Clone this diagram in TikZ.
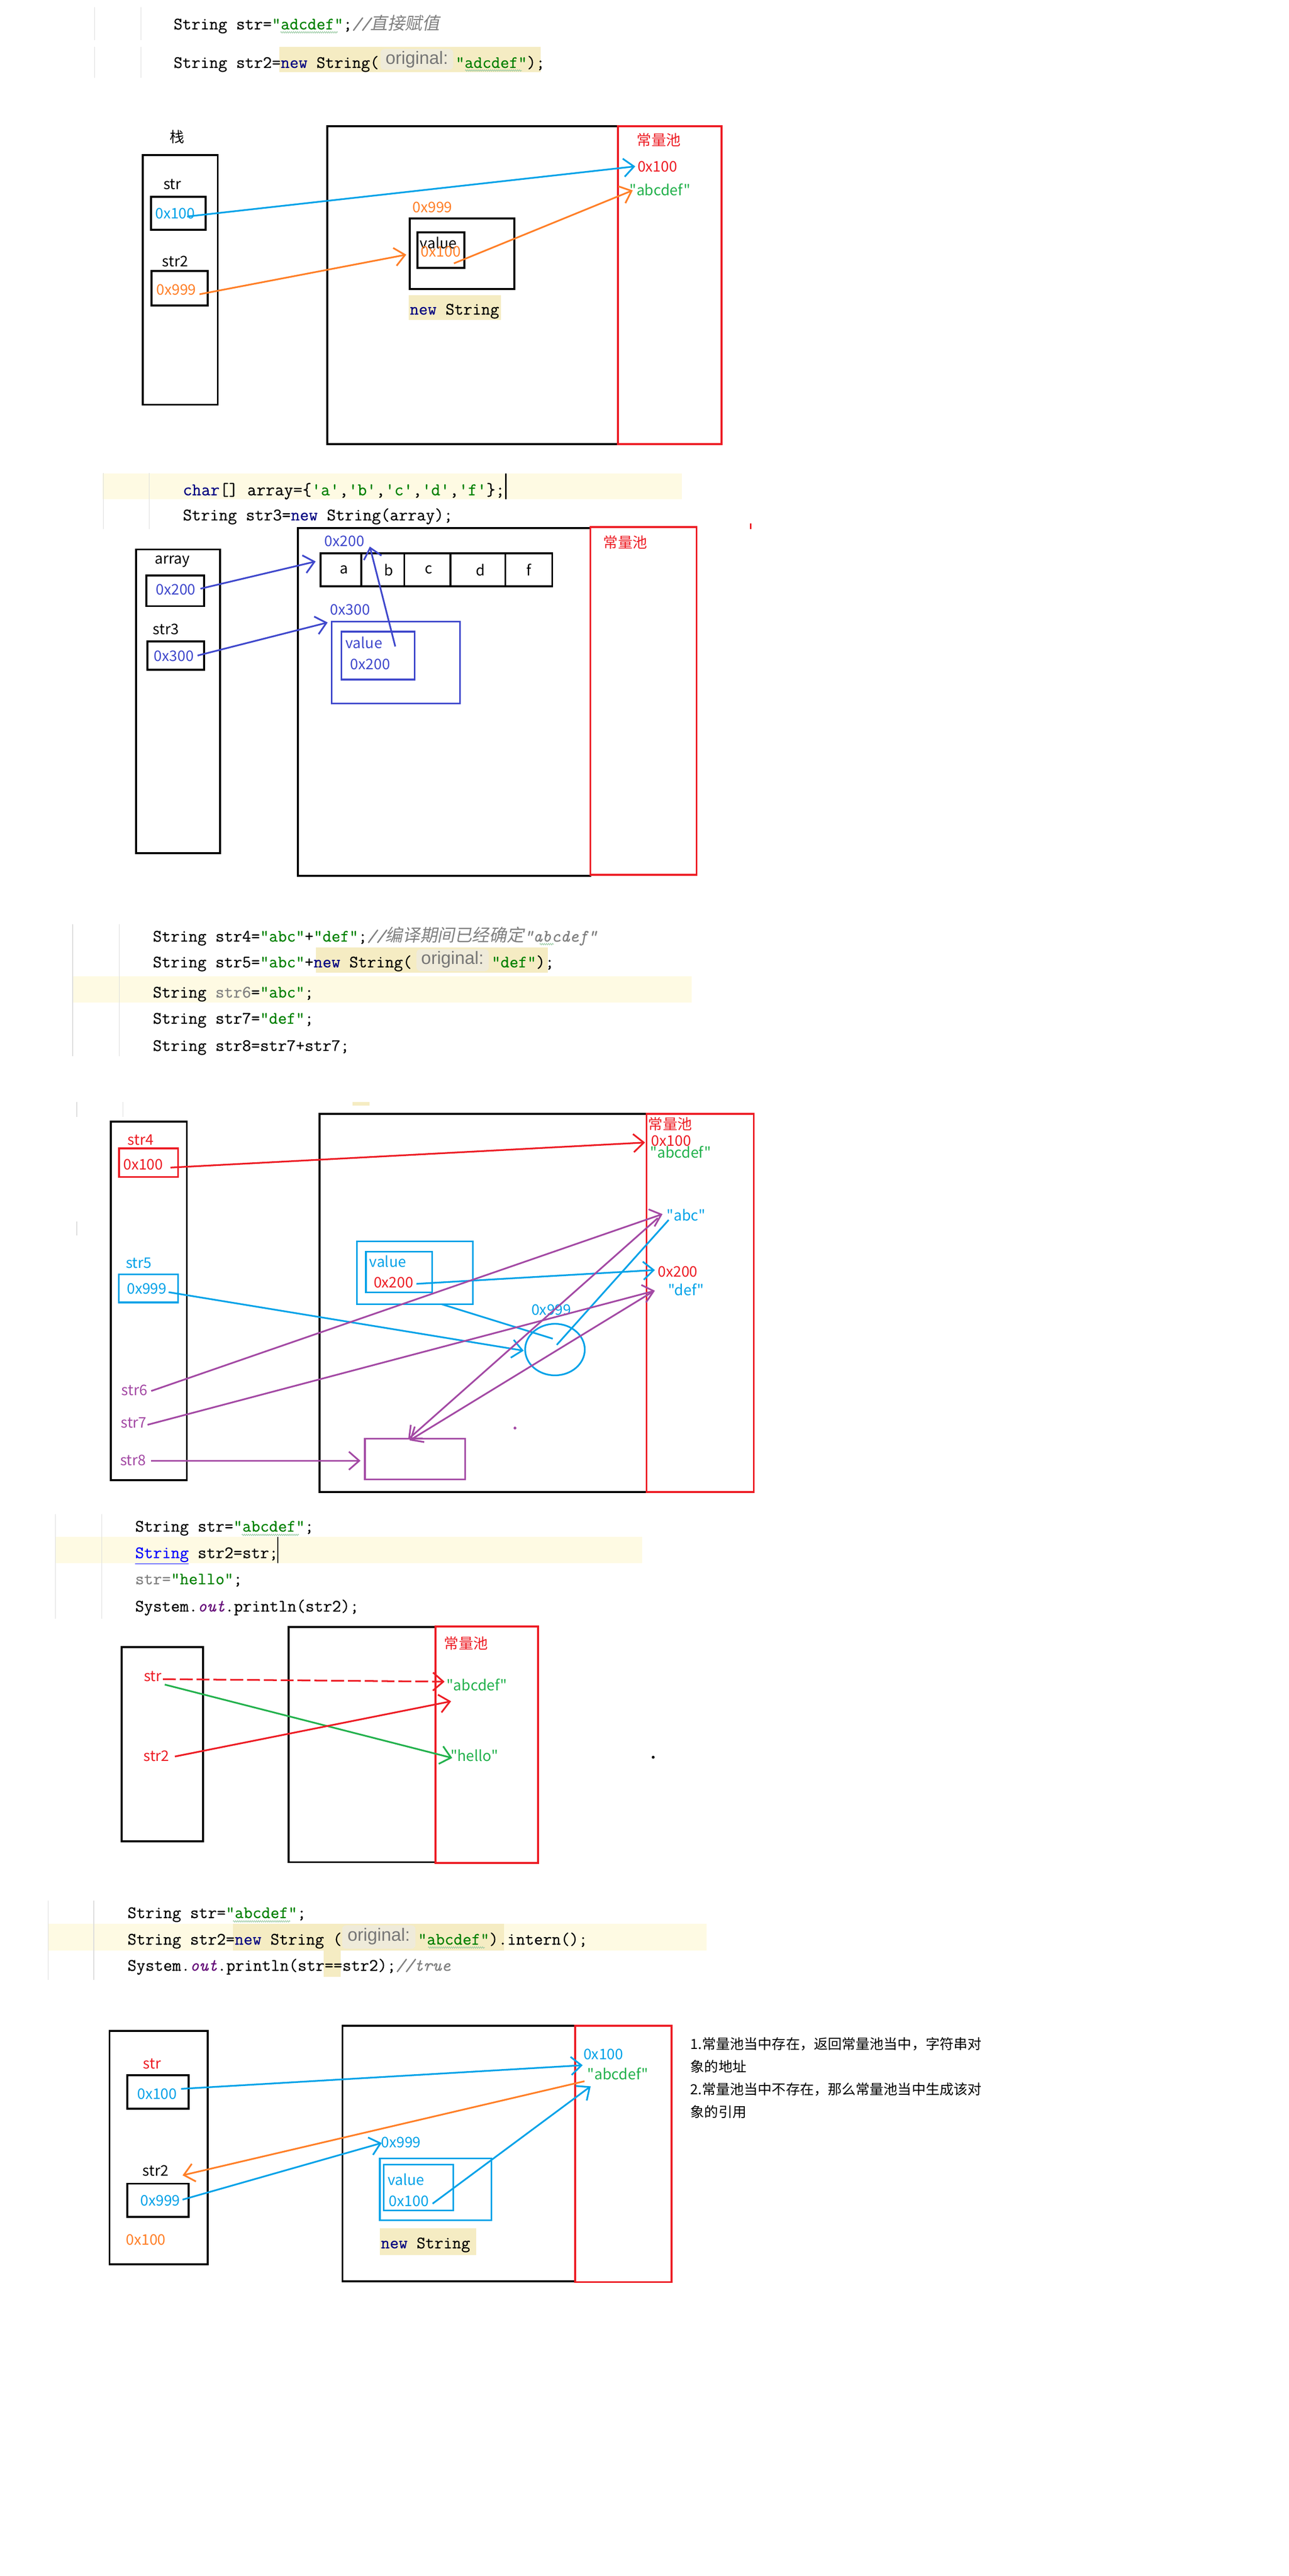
\documentclass[tikz,border=0pt]{standalone}
\usepackage{fontspec}
\usetikzlibrary{arrows.meta,shapes.geometric,decorations.pathmorphing}
\setmonofont[FakeBold=0.4]{Latin Modern Mono}
\newfontfamily\cjk{Noto Sans CJK SC}
\newfontfamily\cjkit[FakeSlant=0.2]{Noto Sans CJK SC}
\newfontfamily\inlayf{Liberation Sans}
\definecolor{pblue}{RGB}{0,162,232}
\definecolor{porange}{RGB}{255,127,39}
\definecolor{pred}{RGB}{237,28,36}
\definecolor{pgreen}{RGB}{34,177,76}
\definecolor{ppurple}{RGB}{163,73,164}
\definecolor{pindigo}{RGB}{63,72,204}
\definecolor{cnavy}{RGB}{0,0,128}
\definecolor{cgreen}{RGB}{0,128,0}
\definecolor{cgray}{RGB}{128,128,128}
\definecolor{cpurple}{RGB}{102,14,122}
\definecolor{linehl}{RGB}{254,250,227}
\definecolor{darkhl}{RGB}{245,236,195}
\definecolor{inlaybg}{RGB}{239,235,218}
\definecolor{inlaytx}{RGB}{118,118,118}
\definecolor{gutgray}{RGB}{220,220,220}
\definecolor{squig}{RGB}{150,200,160}
\newcommand\cN[1]{\textcolor{cnavy}{#1}}
\newcommand\cG[1]{\textcolor{cgreen}{#1}}
\newcommand\cGr[1]{\textcolor{cgray}{#1}}
\newcommand\cC[1]{\textcolor{cgray}{\itshape #1}}
\newcommand\cP[1]{\textcolor{cpurple}{\itshape #1}}
% box node from corner (x1,y1) to (x2,y2) in picture units
\newcommand\mkbox[6]{%
  \pgfmathsetmacro\mkw{(#5-#3)*0.00987}%
  \pgfmathsetmacro\mkh{(#6-#4)*0.00987}%
  \node[#1,minimum width=\mkw cm,minimum height=\mkh cm] (#2) at ({(#3+#5)/2},{(#4+#6)/2}) {};}
\begin{document}
\begin{tikzpicture}[x=0.00987cm,y=-0.00987cm,
  bx/.style={draw=black,line width=1.5pt,inner sep=0pt,outer sep=0pt},
  rbx/.style={draw=pred,line width=1.5pt,inner sep=0pt,outer sep=0pt},
  cbx/.style={line width=1.3pt,inner sep=0pt,outer sep=0pt},
  lab/.style={font=\cjk\fontsize{11.3}{13}\selectfont,inner sep=0pt},
  cd/.style={font=\ttfamily\fontsize{13.4}{16}\selectfont,anchor=base west,inner sep=0pt},
  inl/.style={font=\inlayf\fontsize{13.8}{16}\selectfont,text=inlaytx,inner sep=0pt},
  ibg/.style={fill=inlaybg,rounded corners=3pt},
  arr/.style={line width=1.3pt,-{Straight Barb[length=8pt,width=14pt]}},
  gut/.style={draw=gutgray,line width=0.6pt},
  sq/.style={draw=squig,line width=0.4pt,decorate,decoration={zigzag,segment length=1.6pt,amplitude=0.6pt}}]
\useasboundingbox[fill=white] (0cm,0cm) rectangle (35cm,-70cm);

% ================= Panel 1 =================
\begin{scope}
\draw[gut] (260,20) -- (260,111) (260,129) -- (260,214) (388,20) -- (388,111) (388,129) -- (388,214);
\fill[darkhl] (768,129) rectangle (1488,198);
\fill[ibg] (1047,135) rectangle (1247,192);
\node[cd] (c1a) at (477,81) {String str=\cG{"adcdef"};\cC{//}{\cjkit\color{cgray}直接赋值}};
\node[cd] (c1b) at (477,187) {String str2=\cN{new} String(};
\node[inl] (c1i) at (1147,164) {original:};
\node[cd] (c1c) at (1253,187) {\cG{"adcdef"});};
\draw[sq] (772,89) -- (929,89);
\draw[sq] (1280,194) -- (1436,194);

\node[lab] (zhan) at (488,377) {栈};
\mkbox{bx}{stack1}{393}{427}{599}{1114}
\node[lab] (l1str) at (474,508) {str};
\mkbox{bx}{b1str}{415}{542}{566}{632}
\node[lab,text=pblue] (v1str) at (482,588) {0x100};
\node[lab] (l1str2) at (482,720) {str2};
\mkbox{bx}{b1str2}{417}{746}{572}{841}
\node[lab,text=porange] (v1str2) at (485,798) {0x999};

\mkbox{bx}{heap1}{900}{348}{1700}{1222}
\mkbox{rbx}{pool1}{1700}{348}{1985}{1222}
\node[lab,text=pred] (pl1) at (1813,385) {常量池};
\node[lab,text=pred] (p1a) at (1809,458) {0x100};
\node[lab,text=pgreen] (p1b) at (1816,522) {"abcdef"};
\node[lab,text=porange] (o1addr) at (1190,571) {0x999};
\mkbox{bx}{obj1}{1127}{601}{1415}{796}
\mkbox{bx}{val1}{1149}{640}{1278}{737}
\node[lab] (val1t) at (1206,669) {value};
\node[lab,text=porange] (val1v) at (1213,693) {0x100};
\fill[darkhl] (1125,812) rectangle (1378,881);
\node[cd] (ns1) at (1127,866) {\cN{new} String};

\coordinate (a1s) at (515,596); \coordinate (a1e) at (1748,458);
\coordinate (a2s) at (549,810); \coordinate (a2e) at (1118,701);
\coordinate (a3s) at (1249,725); \coordinate (a3e) at (1741,524);
\draw[arr,pblue] (a1s) -- (a1e);
\draw[arr,porange] (a2s) -- (a2e);
\draw[arr,porange] (a3s) -- (a3e);
\end{scope}

% ================= Panel 2 =================
\begin{scope}[shift={(2.6,16.5)}]
\fill[linehl] (280,1287) rectangle (1873,1358);
\draw[gut] (282,1285) -- (282,1440) (408,1285) -- (408,1440);
\node[cd,font=\ttfamily\fontsize{13.8}{16}\selectfont] (c2a) at (500,1347) {\cN{char}[] array=\{\cG{'a'},\cG{'b'},\cG{'c'},\cG{'d'},\cG{'f'}\};};
\draw[black,line width=1pt] (1389,1287) -- (1389,1358);
\node[cd,font=\ttfamily\fontsize{13.5}{16}\selectfont] (c2b) at (500,1416) {String str3=\cN{new} String(array);};
\draw[pred,line width=1.5pt] (2063,1424) -- (2063,1440);

\mkbox{bx}{stack2}{372}{1496}{603}{2332}
\node[lab] (l2arr) at (472,1529) {array};
\mkbox{bx}{b2arr}{400}{1568}{559}{1652}
\node[lab,text=pindigo] (v2arr) at (481,1606) {0x200};
\node[lab] (l2str3) at (454,1716) {str3};
\mkbox{bx}{b2str3}{403}{1749}{559}{1827}
\node[lab,text=pindigo] (v2str3) at (476,1790) {0x300};

\mkbox{bx}{heap2}{817}{1437}{1622}{2394}
\mkbox{rbx}{pool2}{1622}{1434}{1914}{2392}
\node[lab,text=pred] (pl2) at (1718,1476) {常量池};
\node[lab,text=pindigo] (h2a) at (945,1473) {0x200};
\mkbox{bx}{cells}{880}{1507}{1517}{1597}
\draw[black,line width=1.5pt] (991,1507) -- (991,1597) (1110,1507) -- (1110,1597) (1237,1507) -- (1237,1597) (1388,1507) -- (1388,1597);
\node[lab] (ca) at (944,1552) {a};
\node[lab] (cb) at (1067,1552) {b};
\node[lab] (cc) at (1177,1552) {c};
\node[lab] (cdd) at (1319,1552) {d};
\node[lab] (cf) at (1452,1552) {f};
\node[lab,text=pindigo] (h2b) at (961,1662) {0x300};
\mkbox{cbx,draw=pindigo}{obj2}{910}{1695}{1263}{1920}
\mkbox{cbx,draw=pindigo}{val2}{937}{1722}{1138}{1854}
\node[lab,text=pindigo] (val2t) at (999,1753) {value};
\node[lab,text=pindigo] (val2v) at (1016,1812) {0x200};

\coordinate (b1s) at (549,1604); \coordinate (b1e) at (866,1529);
\coordinate (b2s) at (541,1788); \coordinate (b2e) at (899,1697);
\coordinate (b3s) at (1085,1763); \coordinate (b3e) at (1015,1488);
\draw[arr,pindigo] (b1s) -- (b1e);
\draw[arr,pindigo] (b2s) -- (b2e);
\draw[arr,pindigo] (b3s) -- (b3e);
\end{scope}

% ================= Panel 3 =================
\begin{scope}[shift={(2.0,32.9)}]
\fill[linehl] (198,2654) rectangle (1901,2727);
\draw[gut] (198,2511) -- (198,2875) (326,2511) -- (326,2875);
\fill[darkhl] (867,2575) rectangle (1505,2644);
\fill[ibg] (1144,2580) rectangle (1343,2640);
\node[cd] (c3a) at (418,2559) {String str4=\cG{"abc"}+\cG{"def"};\cC{//}{\cjkit\color{cgray}编译期间已经确定}\cC{"abcdef"}};
\node[cd] (c3b) at (418,2630) {String str5=\cG{"abc"}+\cN{new} String(};
\node[inl] (c3i) at (1243,2609) {original:};
\node[cd] (c3c) at (1350,2630) {\cG{"def"});};
\node[cd] (c3d) at (418,2713) {String \cGr{str6}=\cG{"abc"};};
\node[cd] (c3e) at (418,2785) {String str7=\cG{"def"};};
\node[cd] (c3f) at (418,2860) {String str8=str7+str7;};
\draw[sq] (1483,2566) -- (1522,2566);
\fill[darkhl] (968,3000) rectangle (1015,3011);
\draw[gut] (209,3000) -- (209,3041) (336,3000) -- (336,3041) (209,3329) -- (209,3368);

\mkbox{bx}{stack3}{303}{3054}{512}{4041}
\node[lab,text=pred] (l3s4) at (385,3105) {str4};
\mkbox{rbx}{b3s4}{326}{3128}{488}{3207}
\node[lab,text=pred] (v3s4) at (392,3173) {0x100};
\node[lab,text=pblue] (l3s5) at (380,3444) {str5};
\mkbox{cbx,draw=pblue,line width=1.5pt}{b3s5}{325}{3475}{488}{3552}
\node[lab,text=pblue] (v3s5) at (402,3514) {0x999};
\node[lab,text=ppurple] (l3s6) at (368,3794) {str6};
\node[lab,text=ppurple] (l3s7) at (366,3884) {str7};
\node[lab,text=ppurple] (l3s8) at (364,3986) {str8};

\mkbox{bx}{heap3}{877}{3033}{1777}{4074}
\mkbox{rbx}{pool3}{1777}{3033}{2072}{4074}
\node[lab,text=pred] (pl3) at (1842,3061) {常量池};
\node[lab,text=pred] (p3a) at (1845,3107) {0x100};
\node[lab,text=pgreen] (p3b) at (1871,3139) {"abcdef"};
\node[lab,text=pblue] (p3c) at (1886,3311) {"abc"};
\node[lab,text=pred] (p3d) at (1863,3467) {0x200};
\node[lab,text=pblue] (p3e) at (1886,3517) {"def"};
\mkbox{cbx,draw=pblue}{obj3}{980}{3384}{1299}{3557}
\mkbox{cbx,draw=pblue}{val3}{1005}{3412}{1187}{3524}
\node[lab,text=pblue] (val3t) at (1065,3439) {value};
\node[lab,text=pred] (val3v) at (1081,3498) {0x200};
\node[lab,text=pblue] (h3a) at (1515,3573) {0x999};
\node[ellipse,draw=pblue,line width=1.3pt,minimum width=1.62cm,minimum height=1.40cm,inner sep=0pt] (circ3) at (1525,3682) {};
\mkbox{cbx,draw=ppurple}{s8box}{1002}{3927}{1278}{4039}
\fill[ppurple] (1415,3898) circle (4);

\coordinate (d1s) at (467,3181); \coordinate (d1e) at (1773,3112);
\coordinate (d2s) at (462,3524); \coordinate (d2e) at (1439,3685);
\coordinate (d3s) at (1144,3501); \coordinate (d3e) at (1800,3463);
\coordinate (d4s) at (1213,3557); \coordinate (d4e) at (1519,3652);
\coordinate (d5s) at (1530,3669); \coordinate (d5e) at (1838,3325);
\coordinate (d6s) at (414,3796); \coordinate (d6e) at (1821,3309);
\coordinate (d7s) at (404,3889); \coordinate (d7e) at (1800,3520);
\coordinate (d8s) at (414,3988); \coordinate (d8e) at (990,3988);
\coordinate (d9s) at (1808,3320); \coordinate (d9e) at (1121,3929);
\coordinate (d10s) at (1792,3524); \coordinate (d10e) at (1125,3932);
\draw[arr,pred] (d1s) -- (d1e);
\draw[arr,pblue] (d2s) -- (d2e);
\draw[arr,pblue] (d3s) -- (d3e);
\draw[line width=1.3pt,pblue] (d4s) -- (d4e);
\draw[line width=1.3pt,pblue] (d5s) -- (d5e);
\draw[arr,ppurple] (d6s) -- (d6e);
\draw[arr,ppurple] (d7s) -- (d7e);
\draw[arr,ppurple] (d8s) -- (d8e);
\draw[arr,ppurple] (d9s) -- (d9e);
\draw[arr,ppurple] (d10s) -- (d10e);
\end{scope}

% ================= Panel 4 =================
\begin{scope}[shift={(1.3,54)}]
\fill[linehl] (151,4177) rectangle (1765,4249);
\draw[gut] (151,4114) -- (151,4402) (279,4114) -- (279,4402);
\node[cd] (c4a) at (370,4162) {String str=\cG{"abcdef"};};
\draw[sq] (664,4171) -- (821,4171);
\node[cd] (c4b) at (370,4235) {\textcolor{blue}{\underline{String}} str2=str;};
\draw[black,line width=1pt] (763,4177) -- (763,4249);
\node[cd] (c4c) at (370,4307) {\cGr{str=}\cG{"hello"};};
\node[cd] (c4d) at (370,4382) {System.\cP{out}.println(str2);};

\mkbox{bx}{stack4}{333}{4480}{557}{5014}
\node[lab,text=pred] (l4str) at (419,4560) {str};
\node[lab,text=pred] (l4str2) at (429,4780) {str2};
\mkbox{bx}{heap4}{793}{4425}{1197}{5072}
\mkbox{rbx}{pool4}{1197}{4423}{1479}{5074}
\node[lab,text=pred] (pl4) at (1281,4469) {常量池};
\node[lab,text=pgreen] (p4a) at (1311,4583) {"abcdef"};
\node[lab,text=pgreen] (p4b) at (1304,4778) {"hello"};
\fill[black] (1796,4783) circle (4);

\coordinate (e1s) at (447,4568); \coordinate (e1e) at (1222,4575);
\coordinate (e2s) at (452,4583); \coordinate (e2e) at (1243,4785);
\coordinate (e3s) at (480,4781); \coordinate (e3e) at (1240,4629);
\draw[arr,pred,dash pattern=on 10pt off 3pt] (e1s) -- (e1e);
\draw[arr,pgreen] (e2s) -- (e2e);
\draw[arr,pred] (e3s) -- (e3e);
\end{scope}

% ================= Panel 5 =================
\begin{scope}[shift={(1.3,67.8)}]
\fill[linehl] (131,5227) rectangle (1943,5301);
\draw[gut] (131,5164) -- (131,5382) (257,5164) -- (257,5382);
\fill[darkhl] (640,5227) rectangle (1386,5301);
\fill[ibg] (940,5232) rectangle (1142,5296);
\fill[darkhl] (889,5301) rectangle (936,5374);
\node[cd] (c5a) at (349,5212) {String str=\cG{"abcdef"};};
\draw[sq] (640,5221) -- (797,5221);
\node[cd] (c5b) at (349,5285) {String str2=\cN{new} String (};
\node[inl] (c5i) at (1041,5263) {original:};
\node[cd] (c5c) at (1148,5285) {\cG{"abcdef"}).intern();};
\draw[sq] (1177,5293) -- (1333,5293);
\node[cd] (c5d) at (349,5357) {System.\cP{out}.println(str==str2);\cC{//true}};

\mkbox{bx}{stack5}{300}{5522}{570}{6165}
\node[lab,text=pred] (l5str) at (417,5613) {str};
\mkbox{bx}{b5str}{349}{5645}{518}{5737}
\node[lab,text=pblue] (v5str) at (431,5696) {0x100};
\node[lab] (l5str2) at (427,5907) {str2};
\mkbox{bx}{b5str2}{349}{5943}{518}{6034}
\node[lab,text=pblue] (v5str2) at (440,5990) {0x999};
\node[lab,text=porange] (v5ret) at (400,6098) {0x100};

\mkbox{bx}{heap5}{941}{5508}{1581}{6212}
\mkbox{rbx}{pool5}{1581}{5508}{1847}{6214}
\node[lab,text=pblue] (p5a) at (1659,5587) {0x100};
\node[lab,text=pgreen] (p5b) at (1699,5641) {"abcdef"};
\node[lab,text=pblue] (h5a) at (1102,5829) {0x999};
\mkbox{cbx,draw=pblue}{obj5}{1044}{5874}{1351}{6044}
\mkbox{cbx,draw=pblue}{val5}{1055}{5891}{1246}{6017}
\node[lab,text=pblue] (val5t) at (1116,5932) {value};
\node[lab,text=pblue] (val5v) at (1124,5991) {0x100};
\fill[darkhl] (1044,6065) rectangle (1309,6139);
\node[cd] (ns5) at (1046,6121) {\cN{new} String};

\node[lab,anchor=west,font=\cjk\fontsize{10.8}{13}\selectfont] (t1) at (1898,5559) {1.常量池当中存在，返回常量池当中，字符串对};
\node[lab,anchor=west,font=\cjk\fontsize{10.8}{13}\selectfont] (t2) at (1898,5621) {象的地址};
\node[lab,anchor=west,font=\cjk\fontsize{10.8}{13}\selectfont] (t3) at (1898,5684) {2.常量池当中不存在，那么常量池当中生成该对};
\node[lab,anchor=west,font=\cjk\fontsize{10.8}{13}\selectfont] (t4) at (1898,5746) {象的引用};

\coordinate (f1s) at (497,5682); \coordinate (f1e) at (1602,5617);
\coordinate (f2s) at (1607,5661); \coordinate (f2e) at (501,5920);
\coordinate (f3s) at (501,5987); \coordinate (f3e) at (1049,5831);
\coordinate (f4s) at (1189,5998); \coordinate (f4e) at (1624,5675);
\draw[arr,pblue] (f1s) -- (f1e);
\draw[arr,porange] (f2s) -- (f2e);
\draw[arr,pblue] (f3s) -- (f3e);
\draw[arr,pblue] (f4s) -- (f4e);
\end{scope}
\end{tikzpicture}
\end{document}
